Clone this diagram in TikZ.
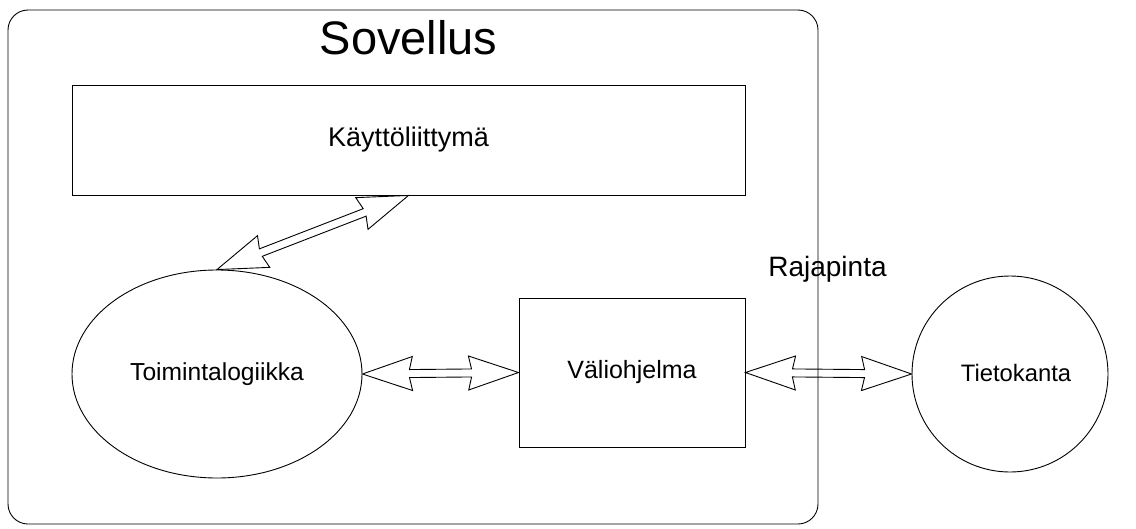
\documentclass[tikz,border=0pt]{standalone}
\usepackage{fontspec}
\setmainfont{Liberation Sans}
\usetikzlibrary{calc,shapes.geometric}
\tikzset{
  line/.style={draw=black,line width=0.9pt},
  boxnode/.style={line,rectangle,inner sep=0pt},
  fs/.style={font=\fontsize{#1}{#1}\selectfont},
  lbl/.style={inner sep=0pt},
  arrowshape/.style={line,line join=miter},
}
\newcommand\blockarrow[2]{%
  \draw[arrowshape] (#1)
  -- ($(#1)!50pt!(#2)!17pt!90:(#2)$)
  -- ($(#1)!47pt!(#2)!4pt!90:(#2)$)
  -- ($(#2)!47pt!(#1)!4pt!-90:(#1)$)
  -- ($(#2)!50pt!(#1)!17pt!-90:(#1)$)
  -- (#2)
  -- ($(#2)!50pt!(#1)!17pt!90:(#1)$)
  -- ($(#2)!47pt!(#1)!4pt!90:(#1)$)
  -- ($(#1)!47pt!(#2)!4pt!-90:(#2)$)
  -- ($(#1)!50pt!(#2)!17pt!-90:(#2)$)
  -- cycle;}
\begin{document}
\begin{tikzpicture}[x=1pt,y=-1pt]
\useasboundingbox (0,0) rectangle (1136,528);
\node[line,rectangle,rounded corners=20pt,minimum width=810pt,minimum height=514pt,inner sep=0pt] (app) at (413,267) {};
\node[lbl,fs=47] (title) at (408.5,38) {Sovellus};
\node[boxnode,fs=27,minimum width=673pt,minimum height=110pt] (kayt) at (408.5,140) {Käyttöliittymä};
\node[boxnode,fs=24.6,ellipse,minimum width=290pt,minimum height=208pt] (toim) at (217,374) {Toimintalogiikka};
\node[boxnode,fs=25,minimum width=226pt,minimum height=149pt] (vali) at (632,372.5) {Väliohjelma};
\node[boxnode,circle,minimum size=196pt] (tieto) at (1010,374) {};
\node[lbl,fs=23.8] (tietolbl) at (1016,373) {Tietokanta};
\node[lbl,fs=28] (raja) at (827.5,269) {Rajapinta};
\blockarrow{toim.north}{kayt.south}
\blockarrow{toim.east}{vali.west}
\blockarrow{vali.east}{tieto.west}
\end{tikzpicture}
\end{document}
